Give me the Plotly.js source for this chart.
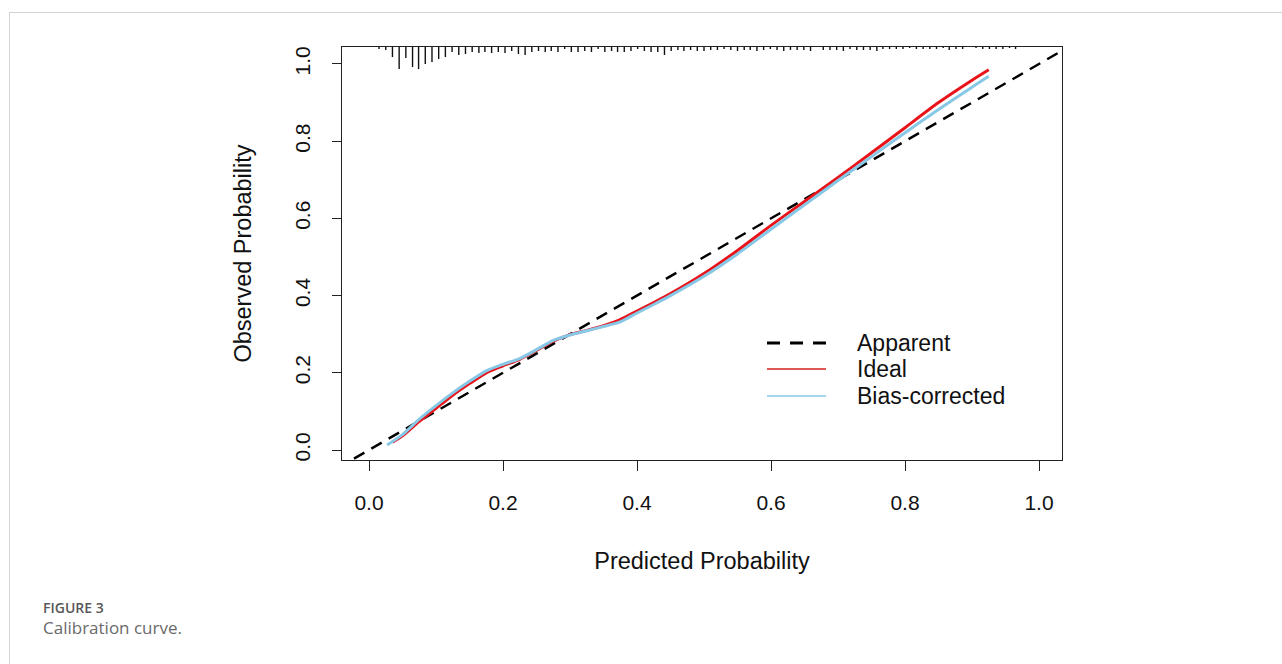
<!DOCTYPE html>
<html>
<head>
<meta charset="utf-8">
<script src="https://cdn.plot.ly/plotly-3.0.1.min.js"></script>
<style>
html,body{margin:0;padding:0;background:#fff;width:1282px;height:664px;overflow:hidden;}
#frame{position:absolute;left:9px;top:12px;right:0;bottom:0;border-top:1px solid #d4d4d4;border-left:1px solid #d4d4d4;}
#plot{position:absolute;left:0;top:0;width:1282px;height:664px;}
#cap1{position:absolute;left:43px;top:598px;font-family:"Open Sans",sans-serif;font-weight:600;font-size:14px;color:#585858;white-space:nowrap;}
#cap2{position:absolute;left:43px;top:616px;font-family:"Open Sans",sans-serif;font-size:17px;color:#6a6a6a;white-space:nowrap;}
</style>
</head>
<body>
<div id="frame"></div>
<div id="plot"></div>
<div id="cap1">FIGURE 3</div>
<div id="cap2">Calibration curve.</div>
<script>
// ---- data ----
const xTickVals = [0, 0.2, 0.4, 0.6, 0.8, 1.0];
const xTickText = ["0.0", "0.2", "0.4", "0.6", "0.8", "1.0"];
const yTickVals = [0, 0.2, 0.4, 0.6, 0.8, 1.0];
const yTickText = ["0.0", "0.2", "0.4", "0.6", "0.8", "1.0"];

const legendLabels = ["Apparent", "Ideal", "Bias-corrected"];

// dashed reference diagonal
const diagX = [-0.1, 1.1];
const diagY = [-0.1, 1.1];

// red curve
const redX = [0.035,0.05,0.075,0.1,0.125,0.15,0.175,0.2,0.225,0.25,0.275,0.3,0.325,0.35,0.375,0.4,0.425,0.45,0.5,0.55,0.6,0.65,0.7,0.75,0.8,0.85,0.9,0.925];
const redY = [0.02,0.037,0.074,0.108,0.142,0.172,0.2,0.218,0.235,0.258,0.282,0.299,0.31,0.322,0.338,0.36,0.382,0.405,0.457,0.517,0.582,0.644,0.706,0.77,0.835,0.9,0.958,0.985];

// light blue curve
const blueX = [0.027,0.05,0.075,0.1,0.125,0.15,0.175,0.2,0.225,0.25,0.275,0.3,0.325,0.35,0.375,0.4,0.425,0.45,0.5,0.55,0.6,0.65,0.7,0.75,0.8,0.85,0.9,0.925];
const blueY = [0.013,0.04,0.08,0.115,0.148,0.178,0.205,0.222,0.237,0.26,0.284,0.298,0.309,0.32,0.332,0.355,0.377,0.4,0.45,0.508,0.572,0.635,0.698,0.76,0.822,0.882,0.94,0.968];

// rug of predicted probabilities (top of plot): positions and relative frequencies
const rugX = [0.015,0.025,0.035,0.045,0.055,0.065,0.074,0.084,0.094,0.104,0.114,0.124,0.134,0.144,0.154,0.164,0.173,0.183,0.193,0.203,0.213,0.223,
0.233,0.243,0.253,0.263,0.272,0.282,0.292,0.302,0.312,0.322,0.332,0.342,0.352,0.362,0.371,0.381,0.391,0.401,0.411,0.421,0.431,0.441,0.451,0.461,0.470,0.480,0.490,
0.500,0.510,0.520,0.530,0.540,0.550,0.560,0.569,0.579,0.589,0.599,0.609,0.619,0.629,0.639,0.649,0.659,0.668,0.678,0.688,0.698,0.708,0.718,0.728,0.738,0.748,0.758,
0.767,0.777,0.787,0.797,0.807,0.817,0.827,0.837,0.847,0.857,0.866,0.876,0.886,0.896,0.906,0.916,0.926,0.936,0.946,0.956,0.965];
const rugFreq = [2,3,10,22,11,20,22,17,15,12,10,5,8,7,5,6,5,6,5,6,4,7,
8,5,4,5,4,5,2,5,5,4,5,2,5,4,5,5,4,2,4,5,5,8,4,3,4,3,4,
4,3,3,2,3,4,3,3,4,3,2,3,4,3,3,3,4,0,3,3,3,4,2,3,3,3,4,
2,2,2,2,1,2,2,2,2,1,3,2,2,0,1,2,2,2,2,1,2];

// ---- build ----
const xRange = [-0.0403, 1.0343];
const yRange = [-0.0259, 1.044];
const rugScale = 0.0026;

const rugXs = [], rugYs = [];
rugX.forEach((x, i) => {
  if (rugFreq[i] > 0) {
    rugXs.push(x, x, null);
    rugYs.push(yRange[1], yRange[1] - rugFreq[i] * rugScale, null);
  }
});

const FONT = '"Liberation Sans", Arial, Helvetica, sans-serif';

const traces = [
  {x: rugXs, y: rugYs, mode: 'lines', line: {color: '#111', width: 1.4}, showlegend: false, hoverinfo: 'skip', name: 'rug'},
  {x: diagX, y: diagY, mode: 'lines', line: {color: '#000', width: 2.5, dash: '12px,8px'}, showlegend: false, name: legendLabels[0]},
  {x: redX, y: redY, mode: 'lines', line: {color: '#e8141a', width: 3, shape: 'spline', smoothing: 0.6}, showlegend: false, name: legendLabels[1]},
  {x: blueX, y: blueY, mode: 'lines', line: {color: '#87c8e6', width: 3, shape: 'spline', smoothing: 0.6}, showlegend: false, name: legendLabels[2]}
];

// legend keys (paper coords inside plot area)
const legKeyX0 = 0.5903, legKeyX1 = 0.6722, legTextX = 0.7125;
const legRowsY = [0.2833, 0.2203, 0.155];
const legStyles = [
  {color: '#000', width: 3, dash: '13px,10px'},
  {color: '#d42020', width: 1.5, dash: 'solid'},
  {color: '#87c8e6', width: 1.5, dash: 'solid'}
];
const shapes = legRowsY.map((y, i) => ({
  type: 'line', xref: 'paper', yref: 'paper', x0: legKeyX0, x1: legKeyX1, y0: y, y1: y,
  line: legStyles[i]
}));
const annotations = legRowsY.map((y, i) => ({
  xref: 'paper', yref: 'paper', x: legTextX, y: y, xanchor: 'left', yanchor: 'middle',
  text: legendLabels[i], showarrow: false, font: {family: FONT, size: 23, color: '#111'}
}));

const layout = {
  width: 1282, height: 664,
  margin: {l: 342, r: 220, t: 47, b: 204},
  paper_bgcolor: 'rgba(0,0,0,0)', plot_bgcolor: 'rgba(0,0,0,0)',
  font: {family: FONT, size: 21, color: '#111'},
  showlegend: false,
  xaxis: {
    range: xRange, tickvals: xTickVals, ticktext: xTickText,
    ticks: 'outside', ticklen: 10, tickwidth: 1, tickcolor: '#222',
    showline: true, mirror: true, linecolor: '#222', linewidth: 1,
    showgrid: false, zeroline: false, ticklabelstandoff: 14,
    tickfont: {family: FONT, size: 21, color: '#111'},
    title: {text: 'Predicted Probability', standoff: 39, font: {family: FONT, size: 23.5, color: '#111'}}
  },
  yaxis: {
    range: yRange, tickvals: yTickVals, ticktext: yTickText, tickangle: -90,
    ticks: 'outside', ticklen: 9, tickwidth: 1, tickcolor: '#222',
    showline: true, mirror: true, linecolor: '#222', linewidth: 1,
    showgrid: false, zeroline: false, ticklabelstandoff: 14,
    tickfont: {family: FONT, size: 21, color: '#111'},
    title: {text: 'Observed Probability', standoff: 32, font: {family: FONT, size: 23.5, color: '#111'}}
  },
  shapes: shapes,
  annotations: annotations
};

Plotly.newPlot('plot', traces, layout, {displayModeBar: false, staticPlot: true});
</script>
</body>
</html>
